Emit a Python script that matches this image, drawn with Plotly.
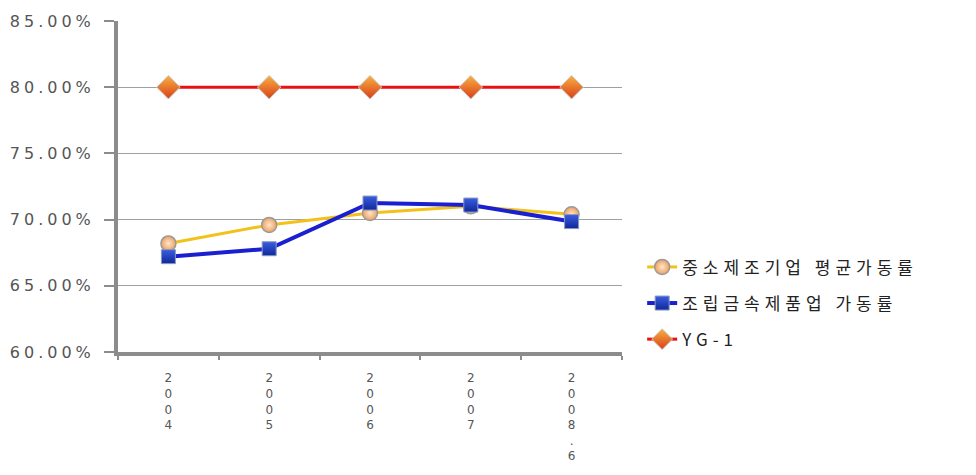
import plotly.graph_objects as go

# Utilisation rates (%) by year
years = ["2004", "2005", "2006", "2007", "2008.6"]
year_labels = ["2<br>0<br>0<br>4", "2<br>0<br>0<br>5", "2<br>0<br>0<br>6",
               "2<br>0<br>0<br>7", "2<br>0<br>0<br>8<br>.<br>6"]

sme_avg = [68.2, 69.6, 70.5, 71.0, 70.4]          # 중소제조기업 평균가동률
metal_products = [67.2, 67.8, 71.25, 71.1, 69.85]  # 조립금속제품업 가동률
yg1 = [80.0, 80.0, 80.0, 80.0, 80.0]               # YG-1

latin_font = "DejaVu Sans"
legend_font = "Noto Sans CJK KR"

fig = go.Figure()

fig.add_trace(go.Scatter(
    x=years, y=sme_avg, name="중소제조기업 평균가동률", mode="lines+markers",
    line=dict(color="#f2c21a", width=3),
    marker=dict(symbol="circle", size=15, color="#eea060",
                gradient=dict(type="radial", color="#fde6cc"),
                line=dict(color="#9a9a9a", width=1.5)),
    legendgroup="a",
))
fig.add_trace(go.Scatter(
    x=years, y=metal_products, name="조립금속제품업 가동률", mode="lines+markers",
    line=dict(color="#1a1fd0", width=4),
    marker=dict(symbol="square", size=14, color="#3a5ee0",
                gradient=dict(type="vertical", color="#10289a"),
                line=dict(color="#8a9ac0", width=1)),
    legendgroup="b",
))
fig.add_trace(go.Scatter(
    x=years, y=yg1, name="YG-1", mode="lines+markers",
    line=dict(color="#e81010", width=3),
    marker=dict(symbol="diamond", size=18, color="#f9b040",
                gradient=dict(type="vertical", color="#d8401a"),
                line=dict(color="#c8c8c8", width=1)),
    legendgroup="c",
))

fig.update_layout(
    width=976, height=475,
    margin=dict(l=118, r=354, t=15, b=121),
    paper_bgcolor="white", plot_bgcolor="white",
    font=dict(family=latin_font, color="#555555"),
    showlegend=True,
    legend=dict(x=1.04, xanchor="left", y=0.31, yanchor="top",
                font=dict(family=legend_font, size=17, color="#222222"),
                tracegroupgap=11, itemwidth=30,
                bgcolor="rgba(0,0,0,0)"),
)

fig.update_yaxes(
    range=[60, 85], dtick=5, tickformat=".2f", ticksuffix="%",
    showgrid=True, gridcolor="#a0a0a0", gridwidth=1,
    showline=True, linecolor="#8c8c8c", linewidth=4,
    ticks="outside", ticklen=10, tickwidth=2, tickcolor="#8c8c8c",
    tickfont=dict(family=latin_font, size=16, color="#555555"),
    ticklabelstandoff=6, zeroline=False,
)
fig.update_xaxes(
    type="category", range=[-0.5, 4.5],
    tickmode="array", tickvals=years, ticktext=year_labels,
    tickson="boundaries", showgrid=False,
    showline=True, linecolor="#8c8c8c", linewidth=4,
    ticks="outside", ticklen=4, tickwidth=2, tickcolor="#8c8c8c",
    tickfont=dict(family=latin_font, size=12, color="#555555"),
    ticklabelstandoff=12,
)

# Wide letter spacing on axis and legend text; legend box left unclipped
post_js = """
var gd = document.getElementById('{plot_id}');
function spread() {
  gd.querySelectorAll('.ytick text').forEach(function(t){ t.style.letterSpacing = '4px'; });
  gd.querySelectorAll('.legendtext').forEach(function(t){ t.style.letterSpacing = '5px'; });
  gd.querySelectorAll('.legend .scrollbox, .legend').forEach(function(el){ el.removeAttribute('clip-path'); });
}
spread();
gd.on('plotly_afterplot', spread);
"""

fig.write_html("out.html", post_script=post_js)
